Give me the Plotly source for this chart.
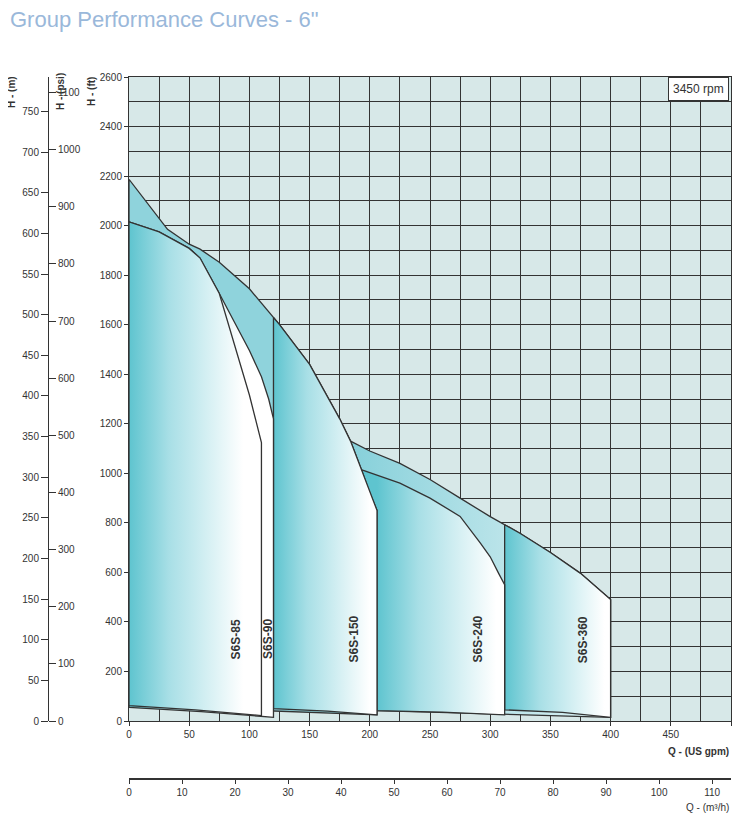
import numpy as np
import plotly.graph_objects as go

# ---- data (Q in US gpm, H in ft) ----
big_q = [0, 32, 50, 59, 75, 100, 125, 150, 175, 184, 193, 200, 206]
big_h = [2187, 1985, 1925, 1905, 1852, 1745, 1600, 1440, 1220, 1130, 1015, 920, 850]
s90_q = [0, 25, 50, 59, 75, 100, 110, 116, 120]
s90_h = [2015, 1975, 1908, 1869, 1726, 1496, 1390, 1300, 1220]
s85_q = [0, 25, 50, 59, 75, 87, 100, 110]
s85_h = [2015, 1975, 1908, 1869, 1726, 1526, 1316, 1124]
s360_q = [184, 200, 225, 250, 275, 300, 325, 350, 375, 400]
s360_h = [1130, 1090, 1040, 975, 900, 825, 757, 680, 596, 490]
s240_q = [194, 200, 225, 250, 275, 292, 300, 307, 312]
s240_h = [1013, 1003, 960, 900, 826, 717, 663, 596, 550]
b85_q, b85_h = [0, 55, 110], [62, 45, 22]
b90_q, b90_h = [0, 60, 120], [55, 38, 15]
b150_q, b150_h = [120, 165, 206], [50, 40, 25]
b240_q, b240_h = [206, 260, 312], [42, 36, 25]
b360_q, b360_h = [312, 360, 400], [45, 35, 15]
labels = ["S6S-85", "S6S-90", "S6S-150", "S6S-240", "S6S-360"]
label_q = [89, 116, 187, 290, 377]
label_h = [330, 330, 330, 330, 330]

OFF = 8  # page body margin
W, H = 742 - 2 * OFF, 821 - 2 * OFF
L, R, T, B = 129 - OFF, 731 - OFF, 77 - OFF, 721 - OFF
LINE = "#333333"
TEAL = "#8fd3dc"

def seg(q, h, a, b):
    qs = [a] + [x for x in q if a < x < b] + [b]
    return qs, list(np.interp(qs, q, h))

fig = go.Figure()

def poly(xs, ys, grad=None, solid=None, start=None, stop=None):
    kw = dict(x=xs + [xs[0]], y=ys + [ys[0]], mode="lines", fill="toself",
              line=dict(color=LINE, width=1.3), hoverinfo="skip", showlegend=False)
    if grad:
        kw["fillgradient"] = dict(type="horizontal", start=start, stop=stop, colorscale=grad)
    else:
        kw["fillcolor"] = solid
    fig.add_trace(go.Scatter(**kw))

g1 = [[0, "#5ec4cf"], [0.35, "#a8dfe6"], [1, "#ffffff"]]

poly(big_q + [b150_q[-1], 0], big_h + [b150_h[-1], b85_h[0]], solid=TEAL)
x, y = seg(s360_q, s360_h, 184, 400)
bx, by = seg(big_q, big_h, 184, 206)
poly(x + [400, 206] + bx[::-1], y + [b360_h[-1], b240_h[0]] + by[::-1],
     grad=[[0, "#86d0da"], [1, "#dff2f4"]], start=184, stop=400)
x, y = seg(s360_q, s360_h, 312, 400)
poly(x + b360_q[::-1], y + b360_h[::-1], grad=g1, start=312, stop=395)
x, y = seg(s240_q, s240_h, 194, 312)
poly(x + b240_q[::-1] + bx[::-1][:-1], y + b240_h[::-1] + by[::-1][:-1],
     grad=g1, start=206, stop=305)
x, y = seg(big_q, big_h, 120, 206)
poly(x + b150_q[::-1], y + b150_h[::-1], grad=g1, start=120, stop=200)
poly(s90_q + b90_q[::-1], s90_h + b90_h[::-1], grad=g1, start=0, stop=95)
poly(s85_q + b85_q[::-1], s85_h + b85_h[::-1], grad=g1, start=0, stop=95)

fig.add_trace(go.Scatter(x=[0, 110], y=[0, 0], xaxis="x2", yaxis="y", mode="markers",
                         marker=dict(opacity=0), showlegend=False, hoverinfo="skip"))
for ya in ["y2", "y3"]:
    fig.add_trace(go.Scatter(x=[0], y=[0], xaxis="x", yaxis=ya, mode="markers",
                             marker=dict(opacity=0), showlegend=False, hoverinfo="skip"))

for t, q, h in zip(labels, label_q, label_h):
    fig.add_annotation(x=q, y=h, text=f"<b>{t}</b>", textangle=-90, showarrow=False,
                       font=dict(size=12, color="#333333", family="Liberation Sans Narrow, Arial"))

xd = [L / W, R / W]
yd = [(H - B) / H, (H - T) / H]
tickf = dict(size=10, color="#333333", family="Liberation Sans Narrow, Arial")
grid = dict(showgrid=True, gridcolor=LINE, gridwidth=1.3)
fig.update_layout(
    width=W, height=H, margin=dict(l=0, r=0, t=0, b=0, autoexpand=False),
    paper_bgcolor="white", plot_bgcolor="#d7e8e8",
    xaxis=dict(domain=xd, range=[0, 500], dtick=50, tick0=0, **grid,
               minor=dict(dtick=25, showgrid=True, gridcolor=LINE, gridwidth=1.3),
               ticks="outside", ticklen=4, tickcolor=LINE, tickfont=tickf,
               zeroline=False, showline=True, linecolor=LINE, mirror=True, anchor="y"),
    yaxis=dict(domain=yd, range=[0, 2600], dtick=200, **grid,
               minor=dict(dtick=100, showgrid=True, gridcolor=LINE, gridwidth=1.3),
               ticks="outside", ticklen=4, tickcolor=LINE, tickfont=tickf,
               zeroline=False, showline=True, linecolor=LINE, mirror=True, anchor="x"),
    xaxis2=dict(domain=xd, range=[0, 500 * 0.22712], dtick=10, anchor="free",
                overlaying="x", position=(H - (779 - OFF)) / H, showline=True,
                linecolor=LINE, linewidth=1.5, ticks="outside", ticklen=4,
                tickcolor=LINE, tickfont=tickf, showgrid=False, zeroline=False, side="bottom"),
    yaxis2=dict(domain=yd, range=[0, 2600 * 0.3048], dtick=50, anchor="free",
                overlaying="y", position=(48 - OFF) / W, side="left", showline=True,
                linecolor=LINE, ticks="outside", ticklen=7, tickcolor=LINE,
                tickfont=tickf, showgrid=False, zeroline=False),
    yaxis3=dict(domain=yd, range=[0, 2600 * 0.43353], dtick=100, anchor="free",
                overlaying="y", position=(48 - OFF) / W, side="right", showline=False,
                ticks="outside", ticklen=7, tickcolor=LINE,
                tickfont=tickf, showgrid=False, zeroline=False),
)

def ann(text, px, py, angle=0, size=10, xanchor="center", color="#333333", bold=True):
    fig.add_annotation(xref="paper", yref="paper", x=(px - OFF) / W, y=1 - (py - OFF) / H,
                       text=f"<b>{text}</b>" if bold else text, textangle=angle,
                       showarrow=False, xanchor=xanchor, yanchor="middle",
                       font=dict(size=size, color=color, family="Liberation Sans Narrow, Arial"))

ann("H - (m)", 12, 92, angle=-90)
ann("H - (psi)", 61, 92, angle=-90)
ann("H - (ft)", 92, 92, angle=-90)
ann("Q - (US gpm)", 731, 751, xanchor="right")
ann("Q - (m³/h)", 731, 807, xanchor="right", bold=False)
ann('Group Performance Curves - 6"', 8, 20, size=22, xanchor="left", color="#9ab8da", bold=False)
fig.add_annotation(xref="paper", yref="paper", x=(R - 2) / W, y=1 - (89 - OFF) / H, text="3450 rpm",
                   showarrow=False, xanchor="right", yanchor="middle", bgcolor="white",
                   bordercolor=LINE, borderwidth=1, borderpad=4,
                   font=dict(size=12, color="#333333", family="Liberation Sans, Arial"))

fig.write_html("out.html")
